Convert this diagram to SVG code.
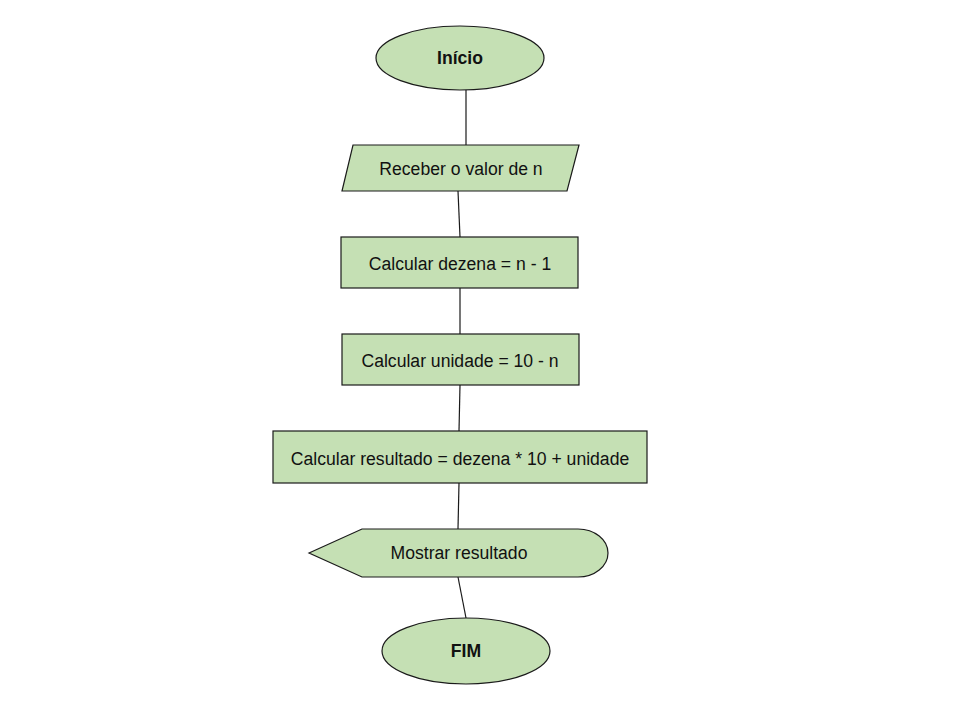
<svg xmlns="http://www.w3.org/2000/svg" width="960" height="720" viewBox="0 0 960 720">
<style>
.s{fill:#c5e0b4;stroke:#1a1a1a;stroke-width:1.2}
.t{font-family:"Liberation Sans",Arial,sans-serif;font-size:17.6px;fill:#111;text-anchor:middle;dominant-baseline:central}
.b{font-weight:bold}
.c{stroke:#1a1a1a;stroke-width:1.2;fill:none}
</style>
<rect width="960" height="720" fill="#fff"/>
<g id="connectors">
<line class="c" x1="466" y1="90" x2="466" y2="145"/>
<line class="c" x1="458" y1="191" x2="460" y2="237"/>
<line class="c" x1="460" y1="288" x2="460" y2="334"/>
<line class="c" x1="460" y1="385" x2="459" y2="431"/>
<line class="c" x1="459" y1="483" x2="458" y2="529"/>
<line class="c" x1="458" y1="577" x2="466" y2="618"/>
</g>
<g id="inicio">
<ellipse class="s" cx="460" cy="58" rx="84" ry="32"/>
<text class="t b" x="460" y="58">Início</text>
</g>
<g id="receber">
<polygon class="s" points="353,145 579,145 567,191 342,191"/>
<text class="t" x="461" y="169">Receber o valor de n</text>
</g>
<g id="dezena">
<rect class="s" x="341" y="237" width="237" height="51"/>
<text class="t" x="460" y="264">Calcular dezena = n - 1</text>
</g>
<g id="unidade">
<rect class="s" x="342" y="334" width="237" height="51"/>
<text class="t" x="460" y="361">Calcular unidade = 10 - n</text>
</g>
<g id="resultado">
<rect class="s" x="273" y="431" width="374" height="52"/>
<text class="t" x="460" y="459">Calcular resultado = dezena * 10 + unidade</text>
</g>
<g id="mostrar">
<path class="s" d="M309,553 L362,529 L578,529 A30,24 0 0 1 578,577 L362,577 Z"/>
<text class="t" x="459" y="553">Mostrar resultado</text>
</g>
<g id="fim">
<ellipse class="s" cx="466" cy="651" rx="84" ry="33"/>
<text class="t b" x="466" y="651">FIM</text>
</g>
</svg>
